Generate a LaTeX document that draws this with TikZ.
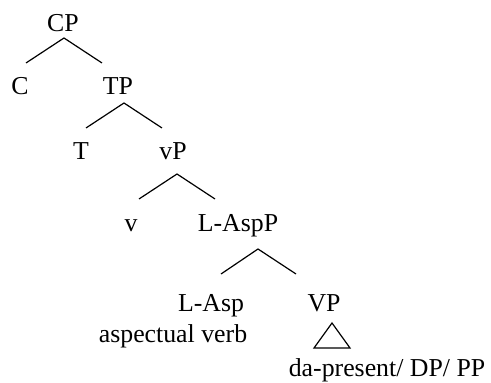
\documentclass[tikz,border=0pt]{standalone}
\usepackage{fontspec}
\setmainfont{Liberation Serif}
\begin{document}
\begin{tikzpicture}[x=0.5pt,y=-0.5pt,line width=0.6pt,
  every node/.style={anchor=base,inner sep=0pt,font=\fontsize{12.9}{15}\selectfont}]
\useasboundingbox (0,0) rectangle (491,383);
\node (cp) at (63,32) {CP};
\node (c) at (20,95) {C};
\node (tp) at (118,95) {TP};
\node (t) at (81,160) {T};
\node (vsp) at (173,160) {vP};
\node (v) at (131,232) {v};
\node (laspp) at (238,232) {L-AspP};
\node (lasp) at (211,312) {L-Asp};
\node (vp) at (324,312) {VP};
\node (asp) at (173,343) {aspectual verb};
\node (comp) at (387,377) {da-present/ DP/ PP};
% branches
\coordinate (cp-fork) at (64,38);
\coordinate (tp-fork) at (124,103);
\coordinate (vsp-fork) at (177,174);
\coordinate (laspp-fork) at (258,249);
\draw (cp-fork) ++(-38,25) -- (cp-fork) -- ++(38,25);
\draw (tp-fork) ++(-38,25) -- (tp-fork) -- ++(38,25);
\draw (vsp-fork) ++(-38,25) -- (vsp-fork) -- ++(38,25);
\draw (laspp-fork) ++(-37,25) -- (laspp-fork) -- ++(38,25);
% roof over VP
\coordinate (vp-roof) at (332,323);
\draw (vp-roof) -- ++(-18,25) -- ++(36,0) -- cycle;
\end{tikzpicture}
\end{document}
